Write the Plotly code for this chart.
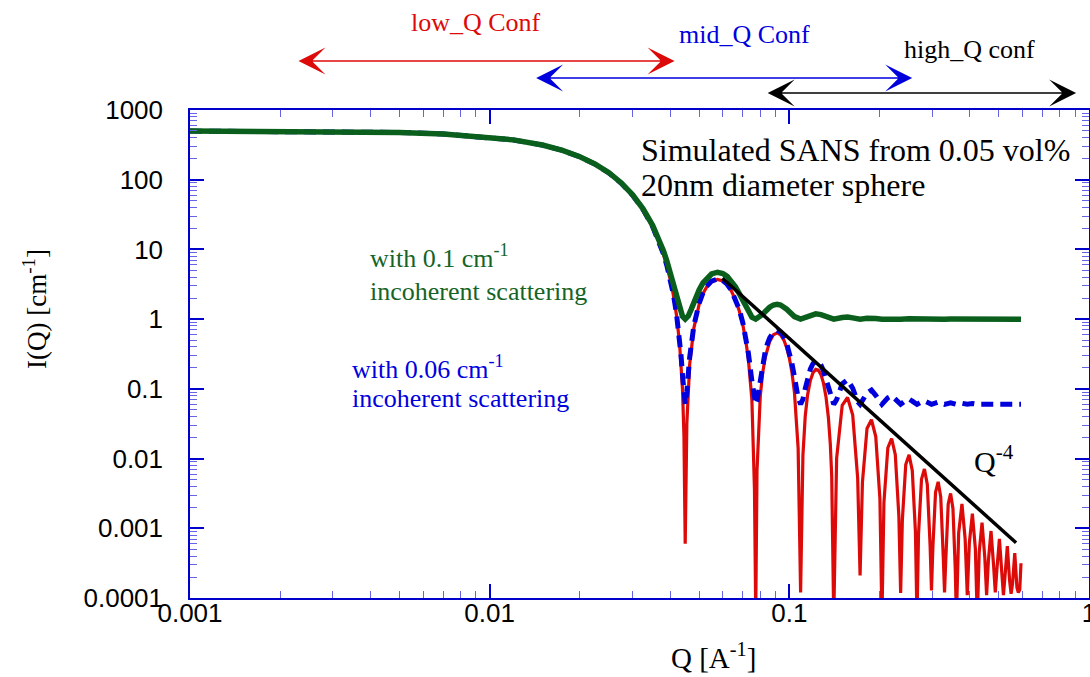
import math
import plotly.graph_objects as go

# ---------------- data ----------------
# red: pure sphere form factor (20 nm diameter), I(Q) in cm^-1
red_q = [0.001, 0.002, 0.003, 0.005, 0.007, 0.010, 0.012, 0.015, 0.0175, 0.020,
         0.0225, 0.025, 0.0275, 0.030, 0.0325, 0.035, 0.0365, 0.038, 0.039, 0.040,
         0.041, 0.042, 0.043, 0.0435, 0.044, 0.0445, 0.04493, 0.0455, 0.0465, 0.048,
         0.050, 0.0515, 0.053, 0.055, 0.0576, 0.060, 0.062, 0.064, 0.066, 0.068,
         0.070, 0.0715, 0.073, 0.075, 0.0765, 0.07725,
         0.078, 0.080, 0.0815, 0.083, 0.0845, 0.086, 0.0885, 0.091, 0.0935, 0.096,
         0.098, 0.100, 0.102, 0.104, 0.107, 0.10904,
         0.111, 0.113, 0.115, 0.1175, 0.120, 0.1225, 0.125, 0.1275, 0.130, 0.1325,
         0.135, 0.137, 0.1385, 0.14066,
         0.14382, 0.15013, 0.15644, 0.16275, 0.16906, 0.17221,
         0.17536, 0.18166, 0.18796, 0.19426, 0.20056, 0.20371,
         0.20686, 0.21315, 0.21945, 0.22575, 0.23204, 0.23519,
         0.23834, 0.24463, 0.25093, 0.25722, 0.26351, 0.26666,
         0.26981, 0.27610, 0.28239, 0.28868, 0.29497, 0.29812,
         0.30126, 0.30755, 0.31384, 0.32013, 0.32642, 0.32956,
         0.33270, 0.33899, 0.34528, 0.35157, 0.35786, 0.36100,
         0.36729, 0.37672, 0.38615, 0.39244,
         0.39873, 0.40816, 0.41758, 0.42387,
         0.43016, 0.43959, 0.44902, 0.45531,
         0.46160, 0.47103, 0.48045, 0.48674,
         0.49303, 0.50246, 0.51188, 0.51817,
         0.52446, 0.53389, 0.54331, 0.54960,
         0.55589, 0.56532, 0.57474, 0.58103,
         0.58731, 0.593]
red_I = [499, 496, 491, 476, 453, 408, 372, 314, 263, 213,
         166.6, 125, 88.9, 59.8, 37.2, 21.0, 13.9, 8.57, 5.87, 3.79,
         2.24, 1.16, 0.464, 0.246, 0.0995, 0.021, 0.0006, 0.0316, 0.224, 0.738,
         1.63, 2.32, 2.89, 3.445, 3.71, 3.52, 3.11, 2.55, 1.93, 1.336,
         0.817, 0.504, 0.266, 0.0698, 0.0036, 0.00006,
         0.00666, 0.0796, 0.171, 0.276, 0.384, 0.480, 0.596, 0.634, 0.595, 0.495,
         0.389, 0.277, 0.173, 0.0891, 0.014, 0.00012,
         0.0111, 0.0407, 0.0807, 0.1316, 0.171, 0.190, 0.1855, 0.160, 0.121, 0.0773,
         0.0388, 0.0163, 0.0056, 0.00005,
         0.01004, 0.05798, 0.07513, 0.04198, 0.00526, 0.00021,
         0.004545, 0.02705, 0.03605, 0.02068, 0.002656, 0.00005,
         0.002347, 0.01427, 0.0194, 0.01134, 0.001482, 0.000118,
         0.001332, 0.008224, 0.01135, 0.006728, 0.000891, 0.00005,
         0.000811, 0.005068, 0.007076, 0.004241, 0.000568, 0.000128,
         0.000522, 0.003292, 0.004638, 0.002804, 0.000379, 0.00012,
         0.000351, 0.00223, 0.003166, 0.001928, 0.000262, 0.00005,
         0.000854, 0.002234, 0.000699, 0.00011,
         0.000615, 0.001621, 0.000511, 0.00005,
         0.000454, 0.001205, 0.000382, 0.00011,
         0.000342, 0.000914, 0.000292, 0.00012,
         0.000263, 0.000706, 0.000226, 0.00011,
         0.000206, 0.000554, 0.000178, 0.000115,
         0.000163, 0.000441, 0.000142, 0.00012,
         0.000131, 0.000315]

# blue dashed: with 0.06 cm^-1 incoherent background
blue_q = [0.001, 0.002, 0.003, 0.005, 0.007, 0.010, 0.012, 0.015, 0.0175, 0.020,
          0.0225, 0.025, 0.0275, 0.030, 0.0325, 0.035, 0.0365, 0.038, 0.039, 0.040,
          0.041, 0.042, 0.043, 0.0435, 0.044, 0.0445, 0.04493, 0.0455, 0.0465, 0.048,
          0.050, 0.0515, 0.053, 0.055, 0.0576, 0.060, 0.062, 0.064, 0.066, 0.068,
          0.070, 0.0715, 0.073, 0.075, 0.0765, 0.07725,
          0.078, 0.080, 0.0815, 0.083, 0.0845, 0.086, 0.0885, 0.091, 0.0935, 0.096,
          0.098, 0.100, 0.102, 0.104, 0.107, 0.10904,
          0.111, 0.113, 0.115, 0.1175, 0.120, 0.1225, 0.125, 0.1275, 0.130, 0.1325,
          0.135, 0.137, 0.1385, 0.14066,
          0.14382, 0.15013, 0.15644, 0.16275, 0.16906, 0.17221,
          0.18166, 0.18796, 0.19426, 0.20371, 0.21315, 0.21945, 0.22575, 0.23519,
          0.24463, 0.25093, 0.25722, 0.26666, 0.27610, 0.28239, 0.28868, 0.29812,
          0.31384, 0.32956, 0.34528, 0.36100, 0.37672, 0.39244, 0.40816, 0.42387, 0.593]
blue_I = [499, 496, 491, 476, 453, 408, 372, 314, 263, 213,
          166.7, 125, 89.0, 59.9, 37.3, 21.1, 13.96, 8.63, 5.93, 3.85,
          2.30, 1.22, 0.524, 0.306, 0.1595, 0.081, 0.060, 0.0916, 0.284, 0.798,
          1.69, 2.38, 2.95, 3.505, 3.77, 3.58, 3.17, 2.61, 1.99, 1.396,
          0.877, 0.564, 0.326, 0.1298, 0.0636, 0.060,
          0.0667, 0.1396, 0.231, 0.336, 0.444, 0.540, 0.656, 0.694, 0.655, 0.555,
          0.449, 0.337, 0.233, 0.149, 0.074, 0.060,
          0.0711, 0.1007, 0.1407, 0.1916, 0.231, 0.250, 0.2455, 0.220, 0.181, 0.1373,
          0.0988, 0.0763, 0.0656, 0.060,
          0.0700, 0.118, 0.135, 0.102, 0.0653, 0.060,
          0.0871, 0.0961, 0.0807, 0.060, 0.0743, 0.0794, 0.0713, 0.060,
          0.0682, 0.0714, 0.0667, 0.060, 0.0651, 0.0671, 0.0642, 0.060,
          0.0646, 0.060, 0.0632, 0.060, 0.0622, 0.060, 0.0616, 0.060, 0.060]

# green: with incoherent background (level ~1 cm^-1 as drawn)
green_q = [0.001, 0.002, 0.003, 0.005, 0.007, 0.010, 0.012, 0.015, 0.0175, 0.020,
           0.0225, 0.025, 0.0275, 0.030, 0.0325, 0.035, 0.0365, 0.038, 0.039, 0.040,
           0.041, 0.042, 0.043, 0.044, 0.04493, 0.046, 0.047, 0.048, 0.050, 0.0515,
           0.053, 0.055, 0.0576, 0.060, 0.062, 0.064, 0.066, 0.068, 0.070, 0.0715,
           0.073, 0.075, 0.07725, 0.080, 0.0815, 0.083, 0.0845, 0.086, 0.0885, 0.091,
           0.0935, 0.096, 0.098, 0.100, 0.102, 0.104, 0.10904, 0.113, 0.1175, 0.1225,
           0.1275, 0.1325, 0.137, 0.14066, 0.15013, 0.15644, 0.16275, 0.17221, 0.18166, 0.18796,
           0.19426, 0.20371, 0.21315, 0.21945, 0.22575, 0.23519, 0.25093, 0.26666, 0.28239, 0.29812,
           0.31384, 0.32956, 0.34528, 0.36100, 0.593]
green_I = [500, 497, 492, 477, 454, 409, 373, 315, 264, 214,
           167.6, 126, 89.9, 60.8, 38.2, 22.0, 14.9, 9.57, 6.87, 4.79,
           3.24, 2.16, 1.464, 1.0995, 1.0, 1.108, 1.37, 1.738, 2.63, 3.32,
           3.89, 4.445, 4.71, 4.52, 4.11, 3.55, 2.93, 2.336, 1.817, 1.504,
           1.266, 1.07, 1.0, 1.08, 1.171, 1.276, 1.384, 1.48, 1.596, 1.634,
           1.595, 1.495, 1.389, 1.277, 1.173, 1.089, 1.0, 1.041, 1.132, 1.19,
           1.16, 1.077, 1.016, 1.0, 1.058, 1.075, 1.042, 1.0, 1.027, 1.036,
           1.021, 1.0, 1.014, 1.019, 1.011, 1.0, 1.011, 1.0, 1.007, 1.0,
           1.005, 1.0, 1.003, 1.0, 1.0]

# black Q^-4 guide line
q4_q = [0.0598, 0.571]
q4_I = [3.86, 0.00062]

# Q ranges of the three instrument configurations (arrows above the plot)
conf_names = ["low_Q Conf", "mid_Q Conf", "high_Q conf"]
conf_start = [0.002275, 0.01413, 0.0837]
conf_end = [0.0414, 0.257, 0.906]
conf_label_q = [0.009, 0.0708, 0.398]

x_tick_vals = [0.001, 0.01, 0.1, 1]
x_tick_text = ["0.001", "0.01", "0.1", "1"]
y_tick_vals = [0.0001, 0.001, 0.01, 0.1, 1, 10, 100, 1000]
y_tick_text = ["0.0001", "0.001", "0.01", "0.1", "1", "10", "100", "1000"]

# ---------------- styles ----------------
RED = "#dd0a0a"
BLUE = "#0000dd"
GREEN_LINE = "#0a5f1c"
GREEN_TEXT = "#156426"
AXIS_BLUE = "#0000cc"
MINOR_BLUE = "#6464e6"
SERIF = "Liberation Serif"
SANS = "Liberation Sans"

fig = go.Figure()
fig.add_trace(go.Scatter(x=red_q, y=red_I, mode="lines",
                         line=dict(color=RED, width=3.2), showlegend=False))
fig.add_trace(go.Scatter(x=blue_q, y=blue_I, mode="lines",
                         line=dict(color=BLUE, width=5, dash="12px,7px"), showlegend=False))
fig.add_trace(go.Scatter(x=green_q, y=green_I, mode="lines",
                         line=dict(color=GREEN_LINE, width=5.5), showlegend=False))
fig.add_trace(go.Scatter(x=q4_q, y=q4_I, mode="lines",
                         line=dict(color="black", width=3.5), showlegend=False))

axis_common = dict(
    type="log", showgrid=False, zeroline=False,
    showline=True, linecolor=AXIS_BLUE, linewidth=1.5, mirror="ticks",
    ticks="inside", ticklen=14, tickwidth=1.5, tickcolor=AXIS_BLUE,
    tickfont=dict(family=SANS, size=26, color="black"),
    minor=dict(ticks="inside", ticklen=7, tickwidth=1, tickcolor=MINOR_BLUE,
               dtick="D1", showgrid=False),
    automargin=False, ticklabeloverflow="allow",
)

fig.update_layout(
    width=1090, height=677,
    margin=dict(l=190, r=1, t=110, b=79),
    paper_bgcolor="white", plot_bgcolor="white",
    showlegend=False,
    xaxis=dict(axis_common, range=[-3, 0], tickmode="array",
               tickvals=x_tick_vals, ticktext=x_tick_text, ticklabelstandoff=-9),
    yaxis=dict(axis_common, range=[-4, 3], tickmode="array",
               tickvals=y_tick_vals, ticktext=y_tick_text, ticklabelstandoff=20),
)

ann = []
conf_colors = [RED, BLUE, "black"]
arrow_y = [1.1004, 1.0656, 1.0348]
label_y = [1.180, 1.154, 1.125]
for i in range(3):
    ann.append(dict(
        x=math.log10(conf_end[i]), y=arrow_y[i], xref="x", yref="y domain",
        ax=math.log10(conf_start[i]), ay=arrow_y[i], axref="x", ayref="y domain",
        text="", showarrow=True, arrowhead=3, startarrowhead=3, arrowside="end+start",
        arrowsize=3, startarrowsize=3, arrowwidth=1.5, arrowcolor=conf_colors[i]))
    ann.append(dict(
        x=math.log10(conf_label_q[i]), y=label_y[i], xref="x", yref="y domain",
        text=conf_names[i], showarrow=False, xanchor="center", yanchor="middle",
        font=dict(family=SERIF, size=26, color=conf_colors[i])))

def txt(xq, yI, s, color, size, anchor="left"):
    return dict(x=math.log10(xq), y=math.log10(yI), xref="x", yref="y", text=s,
                showarrow=False, xanchor=anchor, yanchor="middle",
                font=dict(family=SERIF, size=size, color=color))

ann.append(txt(0.0315, 10 ** 2.42, "Simulated SANS from 0.05 vol%", "black", 32))
ann.append(txt(0.0315, 10 ** 1.93, "20nm diameter sphere", "black", 32))
ann.append(txt(0.00392, 10 ** 0.90, "with 0.1 cm<sup>-1</sup>", GREEN_TEXT, 26))
ann.append(txt(0.00392, 10 ** 0.40, "incoherent scattering", GREEN_TEXT, 26))
ann.append(txt(0.00341, 10 ** -0.70, "with 0.06 cm<sup>-1</sup>", BLUE, 26))
ann.append(txt(0.00341, 10 ** -1.138, "incoherent scattering", BLUE, 26))
ann.append(txt(0.407, 0.01, "Q<sup>-4</sup>", "black", 30))

# axis titles
ann.append(dict(x=(35 - 190) / 899, y=(598 - 309) / 488, xref="paper", yref="paper",
                text="I(Q) [cm<sup>-1</sup>]", textangle=-90, showarrow=False,
                xanchor="center", yanchor="middle",
                font=dict(family=SERIF, size=27, color="black")))
ann.append(dict(x=(713 - 190) / 899, y=(598 - 656) / 488, xref="paper", yref="paper",
                text="Q [A<sup>-1</sup>]", showarrow=False,
                xanchor="center", yanchor="middle",
                font=dict(family=SERIF, size=29, color="black")))

fig.update_layout(annotations=ann)
fig.write_html("out.html",
               config={"displayModeBar": False},
               post_script="document.body.style.margin='0px';"
                           "document.body.style.overflow='hidden';")
